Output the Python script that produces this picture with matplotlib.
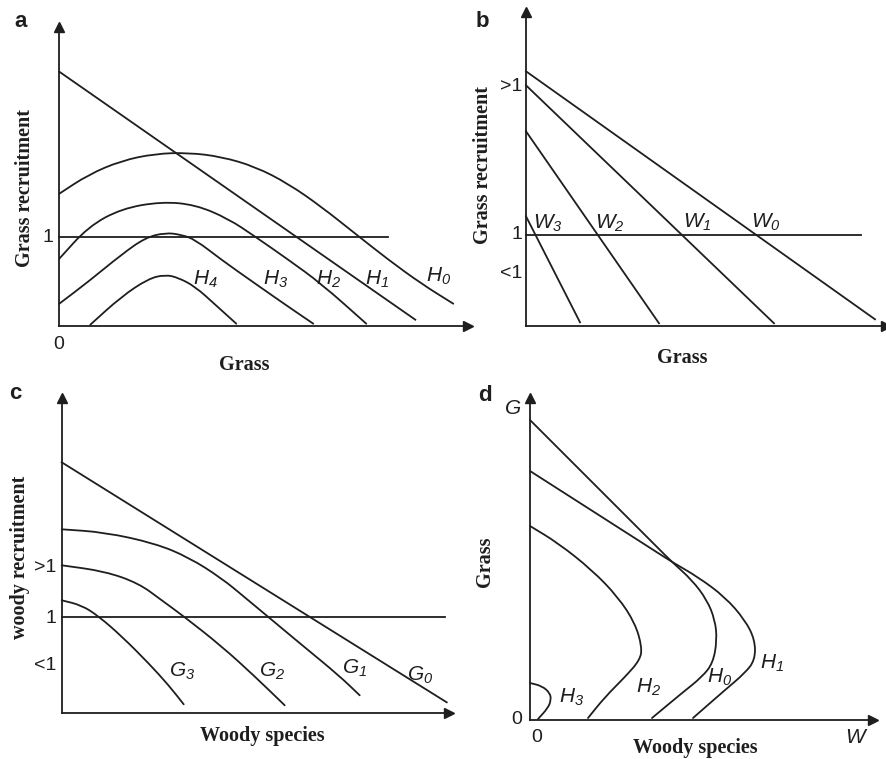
import matplotlib
matplotlib.use('Agg')
import matplotlib.pyplot as plt
from matplotlib.path import Path
from matplotlib.patches import PathPatch

plt.rcParams['mathtext.fontset'] = 'custom'
plt.rcParams['mathtext.it'] = 'Liberation Sans:italic'
plt.rcParams['mathtext.rm'] = 'Liberation Sans:italic'

FIG_W, FIG_H = 887, 759
INK = '#1e1e1e'
LW = 1.3

# ---------------- panel a : grass recruitment vs grass ----------------
a_H1_x = [0, 356]
a_H1_y = [254, 6]
a_H0_x = [0, 29, 62, 96, 129, 162, 196, 229, 262, 296, 329, 362, 394]
a_H0_y = [132, 151, 165, 172, 173, 169, 159, 142, 119, 92, 66, 42, 22]
a_H2_x = [0, 29, 62, 102, 136, 169, 196, 229, 262, 307]
a_H2_y = [67, 99, 117, 124, 121, 107, 89, 66, 42, 2]
a_H3_x = [0, 29, 62, 86, 106, 122, 136, 162, 196, 229, 254]
a_H3_y = [22, 44, 71, 88, 93, 91, 86, 66, 42, 19, 2]
a_H4_x = [31, 62, 89, 106, 119, 136, 156, 177]
a_H4_y = [1, 29, 47, 51, 48, 39, 21, 2]
a_one_x = [0, 329]
a_one_y = 88.4
a_labels = ['H_0', 'H_1', 'H_2', 'H_3', 'H_4']
a_label_pos = [(379, 49), (318, 46), (269, 46), (216, 46), (146, 46)]

# ---------------- panel b : grass recruitment vs grass (woody) --------
b_W0_x = [0, 349]
b_W0_y = [255, 7]
b_W1_x = [0, 248]
b_W1_y = [241, 3]
b_W2_x = [0, 133]
b_W2_y = [195, 3]
b_W3_x = [0, 54]
b_W3_y = [110, 4]
b_one_x = [0, 335]
b_one_y = 91
b_ticks = ['>1', '1', '<1']
b_tick_y = [240, 92, 53]
b_labels = ['W_3', 'W_2', 'W_1', 'W_0']
b_label_pos = [(22, 103), (84, 103), (171, 104), (240, 104)]

# ---------------- panel c : woody recruitment vs woody species --------
c_G0_x = [0, 385]
c_G0_y = [251, 11]
c_G1_x = [0, 43, 93, 127, 160, 183, 207, 243, 277, 298]
c_G1_y = [184, 181, 170, 156, 135, 116, 96, 66, 38, 18]
c_G2_x = [0, 43, 77, 100, 122, 160, 193, 223]
c_G2_y = [148, 142, 130, 113, 97, 67, 37, 8]
c_G3_x = [0, 20, 37, 60, 87, 107, 122]
c_G3_y = [113, 108, 97, 77, 50, 28, 9]
c_one_x = [0, 383]
c_one_y = 96.6
c_ticks = ['>1', '1', '<1']
c_tick_y = [146, 95, 48]
c_labels = ['G_3', 'G_2', 'G_1', 'G_0']
c_label_pos = [(120, 42), (210, 42), (293, 45), (358, 38)]

# ---------------- panel d : grass vs woody species isoclines ----------
d_H0_x = [0, 128, 142, 162, 177, 185, 187, 183, 172, 152, 122]
d_H0_y = [300, 172, 158, 140, 120, 100, 80, 57, 43, 27, 2]
d_H1_x = [0, 125, 142, 168, 195, 215, 225, 225, 215, 195, 163]
d_H1_y = [249, 169, 158, 143, 123, 100, 80, 60, 47, 30, 2]
d_H2_x = [0, 28, 62, 88, 105, 112, 110, 95, 75, 58]
d_H2_y = [194, 177, 150, 123, 97, 73, 60, 43, 23, 2]
d_H3_x = [0, 12, 20, 21, 18, 8]
d_H3_y = [37, 34, 27, 20, 12, 1]
d_labels = ['H_3', 'H_2', 'H_0', 'H_1']
d_label_pos = [(42, 23), (118, 33), (190, 43), (242, 57)]

fig = plt.figure(figsize=(FIG_W / 100, FIG_H / 100), dpi=100)
fig.patch.set_facecolor('white')

SERIF = dict(family='Liberation Serif', weight='bold', size=14.5, color=INK)
SANS = dict(family='Liberation Sans', size=14, color=INK)
LETTER = dict(family='Liberation Sans', weight='bold', size=16, color=INK)


def make_panel(ox, oy, xmax, ymax):
    ax = fig.add_axes([ox / FIG_W, (FIG_H - oy) / FIG_H, xmax / FIG_W, ymax / FIG_H])
    ax.set_xlim(0, xmax)
    ax.set_ylim(0, ymax)
    ax.patch.set_visible(False)
    for s in ['top', 'right']:
        ax.spines[s].set_visible(False)
    for s in ['left', 'bottom']:
        ax.spines[s].set_linewidth(LW)
        ax.spines[s].set_color(INK)
    ax.set_xticks([])
    ax.set_yticks([])
    ax.plot(1, 0, '>', color=INK, ms=7, transform=ax.transAxes, clip_on=False)
    ax.plot(0, 1, '^', color=INK, ms=7, transform=ax.transAxes, clip_on=False)
    return ax


def curve(ax, x, y):
    pts = list(zip(x, y))
    if len(pts) <= 2:
        ax.plot(x, y, color=INK, lw=LW, clip_on=False)
        return
    mid = lambda p, q: ((p[0] + q[0]) / 2, (p[1] + q[1]) / 2)
    verts = [pts[0], mid(pts[0], pts[1])]
    codes = [Path.MOVETO, Path.LINETO]
    for i in range(1, len(pts) - 1):
        verts += [pts[i], mid(pts[i], pts[i + 1])]
        codes += [Path.CURVE3, Path.CURVE3]
    verts.append(pts[-1])
    codes.append(Path.LINETO)
    ax.add_patch(PathPatch(Path(verts, codes), fill=False, edgecolor=INK,
                           lw=LW, clip_on=False, capstyle='round'))


def mlabel(ax, s, pos):
    ax.text(pos[0], pos[1], r'$' + s + '$', ha='center', va='center',
            fontsize=15, color=INK)


# panel a
ax = make_panel(59.3, 325.7, 409, 299)
curve(ax, a_H1_x, a_H1_y)
curve(ax, a_H0_x, a_H0_y)
curve(ax, a_H2_x, a_H2_y)
curve(ax, a_H3_x, a_H3_y)
curve(ax, a_H4_x, a_H4_y)
curve(ax, a_one_x, [a_one_y, a_one_y])
for s, p in zip(a_labels, a_label_pos):
    mlabel(ax, s, p)
ax.text(-6, 88.7, '1', ha='right', va='center', **SANS)
ax.text(-1, -19, '0', ha='center', va='center', **SANS)
ax.text(185, -39, 'Grass', ha='center', va='center', **SERIF)
ax.text(-34, 138, 'Grass recruitment', ha='center', va='center', rotation=90, **SERIF)
ax.text(-39, 304, 'a', ha='center', va='center', **LETTER)

# panel b
ax = make_panel(526, 326.3, 360, 314)
curve(ax, b_W0_x, b_W0_y)
curve(ax, b_W1_x, b_W1_y)
curve(ax, b_W2_x, b_W2_y)
curve(ax, b_W3_x, b_W3_y)
curve(ax, b_one_x, [b_one_y, b_one_y])
for s, p in zip(b_labels, b_label_pos):
    mlabel(ax, s, p)
for t, yv in zip(b_ticks, b_tick_y):
    ax.text(-4, yv, t, ha='right', va='center', **SANS)
ax.text(156, -32, 'Grass', ha='center', va='center', **SERIF)
ax.text(-43, 161, 'Grass recruitment', ha='center', va='center', rotation=90, **SERIF)
ax.text(-44, 305, 'b', ha='center', va='center', **LETTER)

# panel c
ax = make_panel(61.7, 713.3, 387, 315)
curve(ax, c_G0_x, c_G0_y)
curve(ax, c_G1_x, c_G1_y)
curve(ax, c_G2_x, c_G2_y)
curve(ax, c_G3_x, c_G3_y)
curve(ax, c_one_x, [c_one_y, c_one_y])
for s, p in zip(c_labels, c_label_pos):
    mlabel(ax, s, p)
for t, yv in zip(c_ticks, c_tick_y):
    ax.text(-5, yv, t, ha='right', va='center', **SANS)
ax.text(201, -23, 'Woody species', ha='center', va='center', **SERIF)
ax.text(-42, 156, 'woody recruitment', ha='center', va='center', rotation=90, **SERIF)
ax.text(-46, 320, 'c', ha='center', va='center', **LETTER)

# panel d
ax = make_panel(530, 720, 343, 322)
curve(ax, d_H0_x, d_H0_y)
curve(ax, d_H1_x, d_H1_y)
curve(ax, d_H2_x, d_H2_y)
curve(ax, d_H3_x, d_H3_y)
for s, p in zip(d_labels, d_label_pos):
    mlabel(ax, s, p)
ax.text(-8, 1, '0', ha='right', va='center', **SANS)
ax.text(7, -17, '0', ha='center', va='center', **SANS)
ax.text(-17, 312, r'$G$', ha='center', va='center', fontsize=15, color=INK)
ax.text(327, -17, r'$W$', ha='center', va='center', fontsize=15, color=INK)
ax.text(165, -28, 'Woody species', ha='center', va='center', **SERIF)
ax.text(-45, 158, 'Grass', ha='center', va='center', rotation=90, **SERIF)
ax.text(-45, 325, 'd', ha='center', va='center', **LETTER)

fig.savefig('out.png', dpi=100, facecolor='white')
